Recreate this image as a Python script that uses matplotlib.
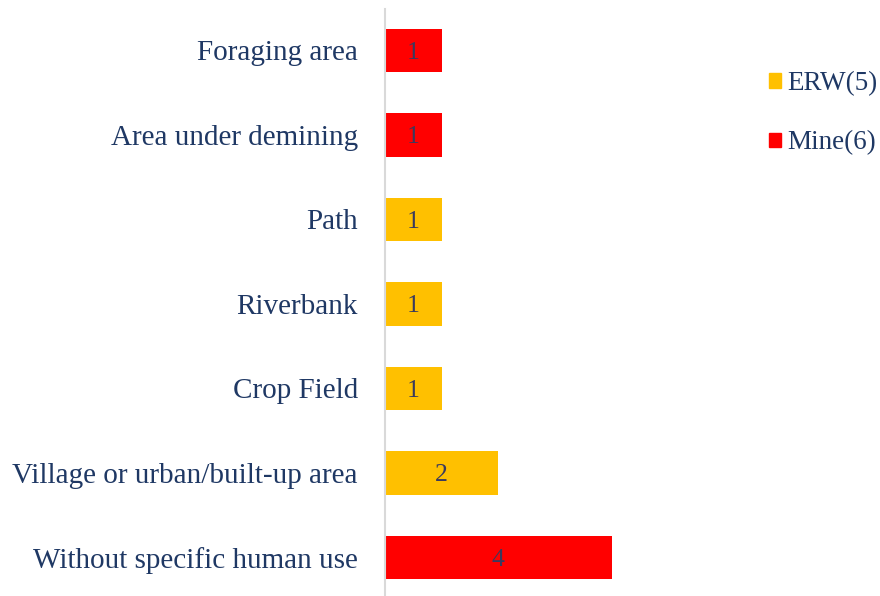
import matplotlib.pyplot as plt
from matplotlib.patches import Patch

categories = ['Foraging area', 'Area under demining', 'Path', 'Riverbank',
              'Crop Field', 'Village or urban/built-up area', 'Without specific human use']
counts = [1, 1, 1, 1, 1, 2, 4]
types = ['Mine', 'Mine', 'ERW', 'ERW', 'ERW', 'ERW', 'Mine']
legend_labels = ['ERW(5)', 'Mine(6)']

colors = {'ERW': '#FFC000', 'Mine': '#FF0000'}
text_color = '#1F3864'

plt.rcParams['font.family'] = ['Liberation Serif', 'DejaVu Serif']

fig = plt.figure(figsize=(8.8, 5.96), dpi=100)
ax = fig.add_axes([385 / 880, 0, 255 / 880, 587 / 596])

y = list(range(len(categories)))
bars = ax.barh(y, counts, height=0.51, color=[colors[t] for t in types])
for b, v in zip(bars, counts):
    ax.text(b.get_width() / 2, b.get_y() + b.get_height() / 2, str(v),
            ha='center', va='center_baseline', fontsize=18.5, color='#3A3A5E')

ax.set_ylim(6.456, -0.491)
ax.set_xlim(0, 4.5)
ax.set_yticks(y)
ax.set_yticklabels(categories, fontsize=21, color=text_color)
ax.tick_params(axis='y', length=0, pad=19.5)
ax.set_xticks([])
for s in ['top', 'right', 'bottom']:
    ax.spines[s].set_visible(False)
ax.spines['left'].set_color('#D9D9D9')
ax.spines['left'].set_linewidth(1.5)

handles = [Patch(color=colors['ERW']), Patch(color=colors['Mine'])]
leg = fig.legend(handles, legend_labels, loc='upper left', bbox_to_anchor=(769 / 880, 1 - 71 / 596),
                 frameon=False, fontsize=19.5, handlelength=0.44, handleheight=0.44,
                 handletextpad=0.25, labelspacing=1.27, borderpad=0, borderaxespad=0)
for t in leg.get_texts():
    t.set_color(text_color)

fig.savefig('out.png', dpi=100)
